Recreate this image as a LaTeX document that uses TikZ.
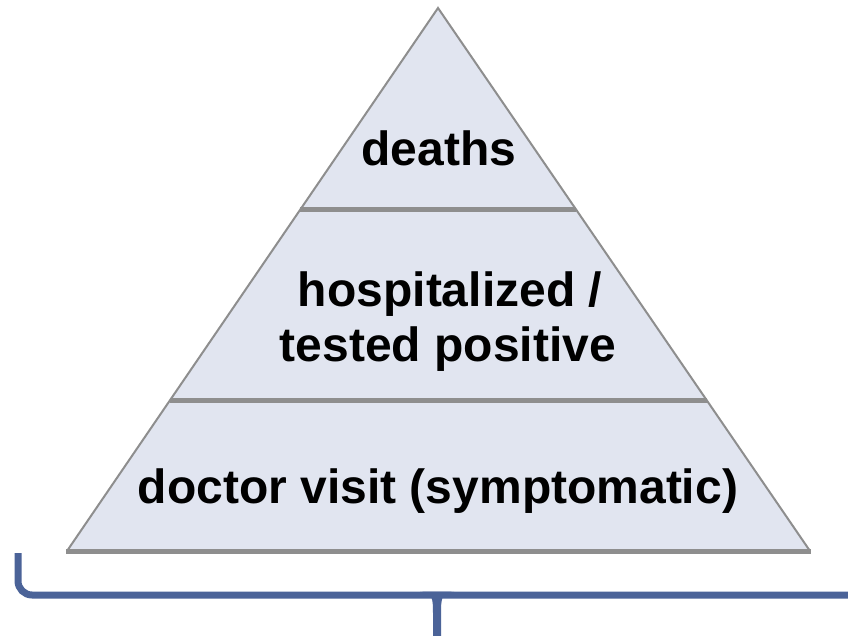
\documentclass[tikz,border=0pt]{standalone}
\usepackage{fontspec}
\setmainfont{Liberation Sans}
\usetikzlibrary{calc}
\definecolor{pyrfill}{HTML}{E1E5F0}
\definecolor{pyredge}{HTML}{8E8E8E}
\definecolor{bracecol}{HTML}{4B6398}
\tikzset{
  lvltext/.style={anchor=base, font=\fontsize{48}{57}\selectfont\bfseries, text=black, inner sep=0pt, align=center},
  divider/.style={draw=pyredge, line width=5pt},
  pyrside/.style={draw=pyredge, line width=2pt, line join=miter},
  bracestyle/.style={draw=bracecol, line width=7pt}
}
\begin{document}
\begin{tikzpicture}[x=1pt,y=-1pt]
\useasboundingbox (0,0) rectangle (848,636);
\clip (0,0) rectangle (848,636);
\coordinate (apex) at (438,8);
\coordinate (bl) at (67,551);
\coordinate (br) at (810,551);
\coordinate (d1l) at ($(apex)!0.372!(bl)$);
\coordinate (d1r) at ($(apex)!0.372!(br)$);
\coordinate (d2l) at ($(apex)!0.722!(bl)$);
\coordinate (d2r) at ($(apex)!0.722!(br)$);
\fill[pyrfill] (apex) -- (bl) -- (br) -- cycle;
\draw[pyrside] (bl) -- (apex) -- (br);
\draw[divider] (d1l) -- (d1r);
\draw[divider] (d2l) -- (d2r);
\draw[divider] ($(bl)+(-1,0)$) -- ($(br)+(1,0)$);
\node[lvltext] (deaths) at (439,166) {deaths};
\node[lvltext] (hosp) at (450,306) {hospitalized /};
\node[lvltext] (tested) at (448,361) {tested positive};
\node[lvltext] (doctor) at (438,503) {doctor visit (symptomatic)};
% brace
\draw[bracestyle, rounded corners=14pt] (18,553) -- (18,595) -- (860,595);
\fill[bracecol] (420,591.5) .. controls (433,591.5) and (433,600) .. (433,614) -- (433,640) -- (441,640) -- (441,614) .. controls (441,600) and (441,591.5) .. (454,591.5) -- cycle;
\end{tikzpicture}
\end{document}
